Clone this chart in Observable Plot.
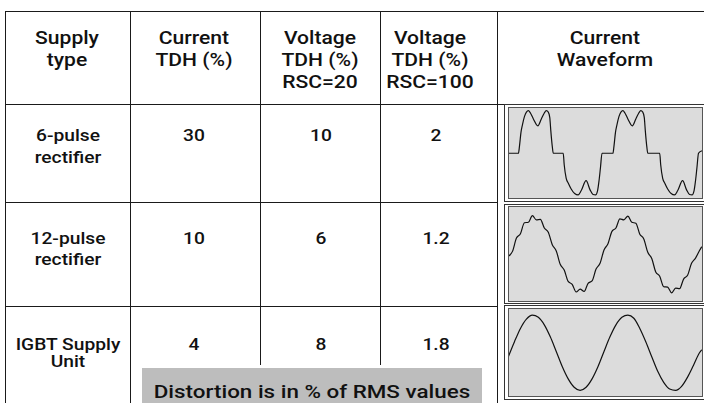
<!DOCTYPE html>
<html><head><meta charset="utf-8">
<script src="https://cdn.jsdelivr.net/npm/d3@7"></script>
<script src="https://cdn.jsdelivr.net/npm/@observablehq/plot@0.6"></script>
<style>
body{margin:0;background:#fff;}
#wrap{position:relative;width:704px;height:403px;overflow:hidden;background:#fff;font-family:Roboto,"Liberation Sans",sans-serif;font-weight:500;color:#111;}
.hl{position:absolute;height:0;border-top:1.6px solid #1a1a1a;}
.vl{position:absolute;width:0;border-left:1.6px solid #1a1a1a;}
.t{position:absolute;text-align:center;white-space:nowrap;width:300px;transform-origin:50% 50%;}
.frame{position:absolute;border:1.2px solid #333;box-sizing:border-box;}
.box{position:absolute;border:1.5px solid #555;background:#dcdcdc;box-sizing:border-box;overflow:hidden;}
.note{position:absolute;background:#bdbdbd;}
</style>
</head><body><div id="wrap"></div>
<script>
// ---- data ----
const headers = [["Supply","type"],["Current","TDH (%)"],["Voltage","TDH (%)","RSC=20"],["Voltage","TDH (%)","RSC=100"],["Current","Waveform"]];
const supplyTypes = [["6-pulse","rectifier"],["12-pulse","rectifier"],["IGBT Supply","Unit"]];
const currentTHD = [30, 10, 4];
const voltageTHD20 = [10, 6, 8];
const voltageTHD100 = [2, 1.2, 1.8];
const noteText = "Distortion is in % of RMS values";

// waveform samples: [time (px along box), relative amplitude]
const wave6pulse = [[0,0],[10,0],[11,0.15],[12.5,0.45],[14,0.62],[16,0.8],[18,0.9],[20,0.93],[22,0.88],[25,0.75],[29.5,0.6],[33,0.75],[36,0.88],[38,0.93],[40,0.9],[41.5,0.78],[42.5,0.5],[44,0.15],[45,0],
[55,0],[56,-0.25],[58,-0.55],[60,-0.65],[63,-0.78],[66.5,-0.88],[70,-0.91],[73,-0.82],[78,-0.6],[82,-0.8],[85,-0.9],[87.5,-0.91],[89.5,-0.82],[91,-0.6],[92.5,-0.3],[94,0],
[105,0],[106,0.15],[107.5,0.45],[109,0.62],[111,0.8],[113,0.9],[115,0.93],[117,0.88],[120,0.75],[124.5,0.6],[128,0.75],[131,0.88],[133,0.93],[135,0.9],[136.5,0.78],[137.5,0.5],[139,0.15],[140,0],
[152,0],[153,-0.25],[155,-0.55],[157,-0.65],[160,-0.78],[163.5,-0.88],[167,-0.91],[170,-0.82],[175,-0.6],[179,-0.8],[182,-0.9],[184.5,-0.91],[186.5,-0.82],[188,-0.6],[189.5,-0.3],[191,0],[194,0.05]];
const wave12pulse = [[0,-0.04],[4,0.06],[8,0.34],[12,0.43],[16,0.66],[20,0.67],[24,0.81],[28,0.72],[32,0.73],[36,0.55],[40,0.46],[44,0.2],[48,0.07],[52,-0.21],[56,-0.33],[60,-0.57],[64,-0.63],[68,-0.79],[72,-0.73],[76,-0.78],[80,-0.61],[84,-0.56],[88,-0.31],[92,-0.19],[96,0.09],[100,0.22],[104,0.48],[108,0.55],[112,0.74],[116,0.72],[120,0.8],[124,0.67],[128,0.65],[132,0.42],[136,0.32],[140,0.04],[144,-0.09],[148,-0.37],[152,-0.46],[156,-0.68],[160,-0.69],[164,-0.81],[168,-0.71],[172,-0.72],[176,-0.52],[180,-0.44],[184,-0.19],[188,-0.08],[192,0.08],[194,0.15]];
const waveIGBT = [[0,-0.08],[6,0.25],[12,0.55],[18,0.76],[24,0.85],[30,0.80],[36,0.63],[42,0.36],[48,0.03],[54,-0.31],[60,-0.59],[66,-0.78],[72,-0.85],[78,-0.78],[84,-0.59],[90,-0.31],[96,0.03],[102,0.36],[108,0.63],[114,0.80],[120,0.85],[126,0.78],[132,0.55],[138,0.25],[144,-0.09],[150,-0.42],[156,-0.67],[162,-0.82],[168,-0.85],[174,-0.76],[180,-0.55],[186,-0.28],[192,0.0],[194,0.06]];

// ---- layout ----
const wrap = document.getElementById("wrap");
function el(cls, css){const d=document.createElement("div");d.className=cls;Object.assign(d.style,css);wrap.appendChild(d);return d;}
function txt(str,cx,base,fs,sx){const d=el("t",{left:(cx-150)+"px",top:(base-0.842*fs)+"px",fontSize:fs+"px",lineHeight:fs+"px",transform:"scaleX("+sx+")"});d.textContent=str;return d;}

// grid lines
el("hl",{left:"5px",top:"10.5px",width:"699px"});
el("hl",{left:"5px",top:"104px",width:"699px"});
el("hl",{left:"5px",top:"202px",width:"492px"});
el("hl",{left:"5px",top:"306px",width:"492px"});
el("vl",{left:"4.5px",top:"10.5px",height:"393px"});
el("vl",{left:"129.5px",top:"10.5px",height:"393px"});
el("vl",{left:"259.5px",top:"10.5px",height:"354px"});
el("vl",{left:"379.5px",top:"10.5px",height:"354px"});
el("vl",{left:"496.5px",top:"10.5px",height:"393px"});

// header text
const hdrCx = [67, 194, 320, 430, 605];
const hdrBase = [45, 67, 89];
headers.forEach((lines,i)=>lines.forEach((s,j)=>txt(s,hdrCx[i],hdrBase[j],18.5,1.14)));

// rows
const rowBase = [[141.7,163.3],[245,265.7],[350.5,368]];
const fsBody = 16.3;
supplyTypes.forEach((lines,r)=>lines.forEach((s,j)=>txt(s,67.5,rowBase[r][j],fsBody,1.18)));
currentTHD.forEach((v,r)=>txt(String(v),194,rowBase[r][0],fsBody,1.18));
voltageTHD20.forEach((v,r)=>txt(String(v),321,rowBase[r][0],fsBody,1.18));
voltageTHD100.forEach((v,r)=>txt(String(v),436,rowBase[r][0],fsBody,1.18));

// note
el("note",{left:"142px",top:"368px",width:"340px",height:"40px"});
txt(noteText,312,399,17.5,1.28);

// waveforms
const waves = [wave6pulse, wave12pulse, waveIGBT];
const frames = [[104,98],[203.5,100],[305,95]];
const boxes = [[107,92],[206,96],[308,89]];
waves.forEach((w,i)=>{
  el("frame",{left:"504px",top:frames[i][0]+"px",width:"202px",height:frames[i][1]+"px"});
  const b = el("box",{left:"508px",top:boxes[i][0]+"px",width:"195px",height:boxes[i][1]+"px"});
  const p = Plot.plot({
    width: 194, height: boxes[i][1], margin: 0,
    x: {domain: [0, 194], axis: null},
    y: {domain: [-1, 1], axis: null},
    style: {background: "transparent", overflow: "visible"},
    marks: [Plot.line(w, {x: d => d[0], y: d => d[1], stroke: "#111", strokeWidth: 1.2, curve: "monotone-x"})]
  });
  p.style.position="absolute"; p.style.left="-1.5px"; p.style.top="-1.5px";
  b.appendChild(p);
});
</script>
</body></html>
